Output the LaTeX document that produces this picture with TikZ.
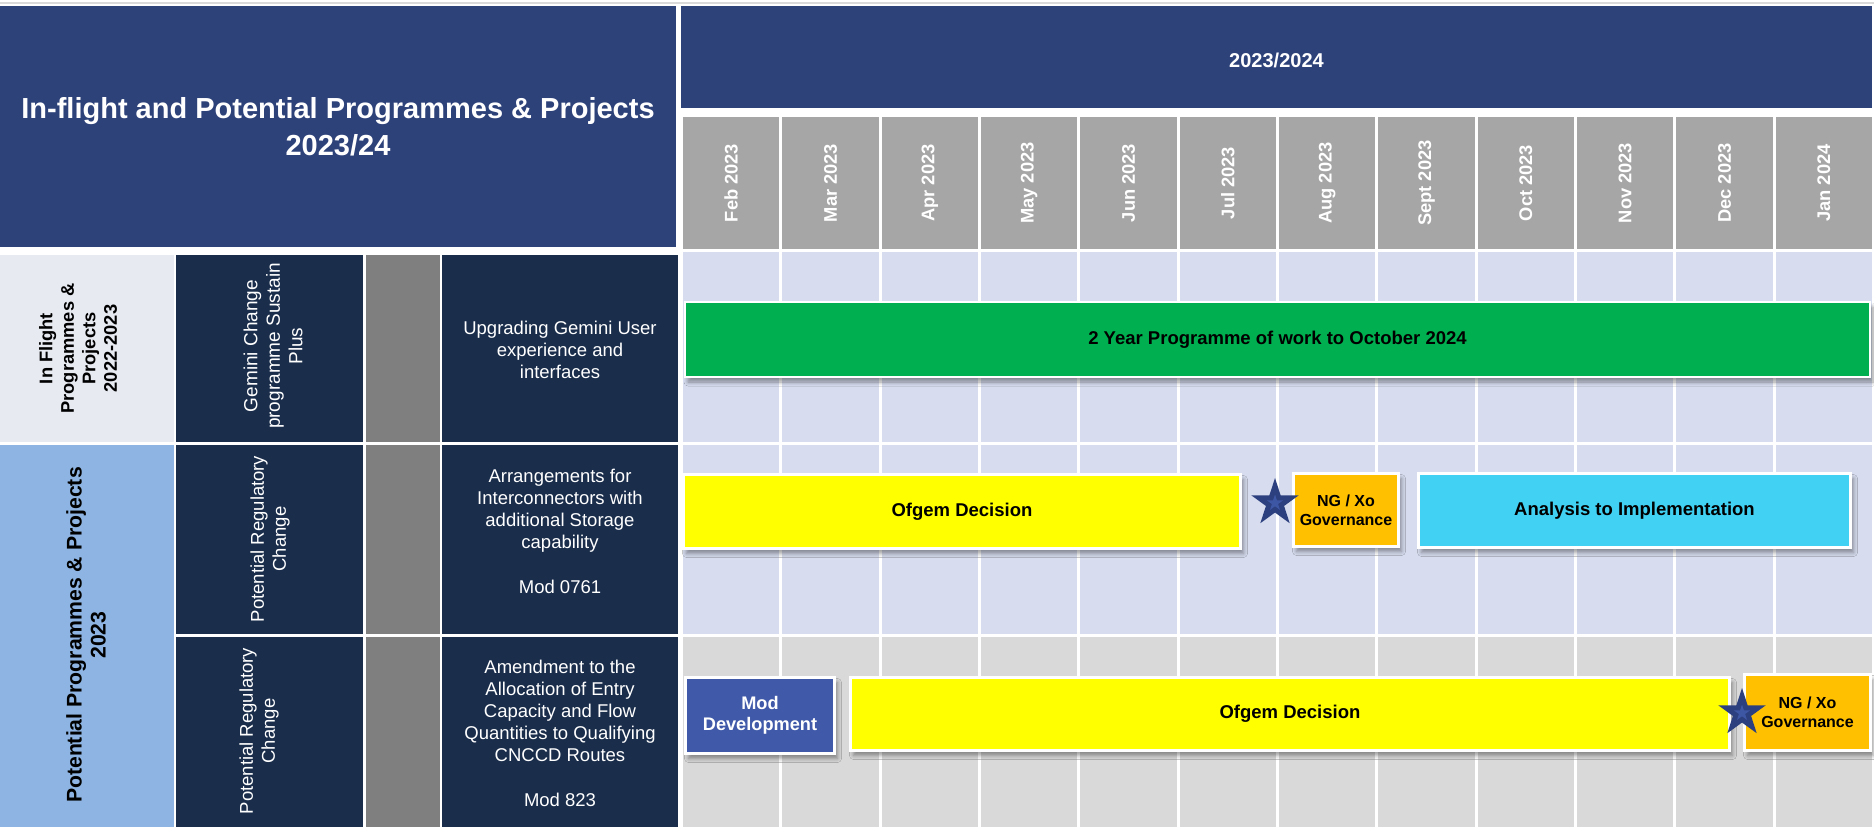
\documentclass[tikz,border=0pt]{standalone}
\usepackage{fontspec}
\setmainfont{Liberation Sans}
\usetikzlibrary{shapes.geometric,shadows.blur}
\definecolor{titleblue}{HTML}{2E427A}
\definecolor{navy}{HTML}{1A2D4B}
\definecolor{midgray}{HTML}{7F7F7F}
\definecolor{monthgray}{HTML}{A6A6A6}
\definecolor{lav}{HTML}{D7DDEF}
\definecolor{lgray}{HTML}{D9D9D9}
\definecolor{catlight}{HTML}{E8EAF2}
\definecolor{catblue}{HTML}{8DB4E2}
\definecolor{bargreen}{HTML}{00B050}
\definecolor{baryellow}{HTML}{FFFF00}
\definecolor{barorange}{HTML}{FFC000}
\definecolor{barcyan}{HTML}{41D2F3}
\definecolor{modblue}{HTML}{4059A9}
\definecolor{stardark}{HTML}{2C3F7E}
\definecolor{starlight}{HTML}{3E57A5}
\definecolor{topline}{HTML}{DADADA}
\begin{document}
\begin{tikzpicture}[x=1pt,y=-1pt,
  celltext/.style={text=white, font=\fontsize{18.5}{22}\selectfont, align=center, inner sep=0pt},
  sidetext/.style={celltext, rotate=90},
  cattext/.style={text=black, align=center, inner sep=0pt, rotate=90},
  monthtext/.style={text=white, font=\bfseries\fontsize{18.3}{22}\selectfont, rotate=90, inner sep=0pt},
  headtext/.style={text=white, align=center, inner sep=0pt},
  bar/.style={draw=white, line width=2.5pt, inner sep=0pt, align=center, text=black,
     font=\bfseries\fontsize{18.5}{22}\selectfont,
     blur shadow={shadow xshift=3pt, shadow yshift=-5pt, shadow blur radius=4pt, shadow blur steps=6}},
  govbar/.style={bar, fill=barorange, font=\bfseries\fontsize{16}{19}\selectfont},
  starmark/.style={star, star points=5, star point ratio=2.618, minimum size=50pt, inner sep=0pt,
     fill=stardark},
  starcore/.style={star, star points=5, star point ratio=2.618, minimum size=17pt, inner sep=0pt,
     fill=starlight}
]
\useasboundingbox (0,0) rectangle (1874,828);
\fill[white] (0,0) rectangle (1874,828);
\draw[topline, line width=1.5pt] (0,3) -- (1874,3);

% title and year header
\fill[titleblue] (0,6) rectangle (676,247);
\node[headtext, font=\bfseries\fontsize{29}{37}\selectfont] (title) at (338,127)
  {In-flight and Potential Programmes \& Projects\\2023/24};
\fill[titleblue] (681,6) rectangle (1872,108);
\node[headtext, font=\bfseries\fontsize{20}{24}\selectfont] (yearhead) at (1276.5,60.5) {2023/2024};

% month header cells and chart grid
\foreach \m [count=\j from 0] in {Feb 2023,Mar 2023,Apr 2023,May 2023,Jun 2023,Jul 2023,Aug 2023,Sept 2023,Oct 2023,Nov 2023,Dec 2023,Jan 2024}{
  \fill[monthgray] ({683+\j*99.33},117) rectangle ({683+\j*99.33+96.33},249);
  \node[monthtext] (month\j) at ({731.2+\j*99.33},183) {\m};
  \fill[lav] ({683+\j*99.33},252) rectangle ({683+\j*99.33+96.33},442);
  \fill[lav] ({683+\j*99.33},445) rectangle ({683+\j*99.33+96.33},634);
  \fill[lgray] ({683+\j*99.33},637) rectangle ({683+\j*99.33+96.33},827);
}

% left table
\fill[catlight] (0,255) rectangle (174,442);
\fill[catblue] (0,445) rectangle (174,827);
\foreach \ya/\yb in {255/442,445/634,637/827}{
  \fill[navy] (176,\ya) rectangle (363,\yb);
  \fill[midgray] (366,\ya) rectangle (440,\yb);
  \fill[navy] (442,\ya) rectangle (678,\yb);
}
\node[cattext, font=\bfseries\fontsize{18.3}{21.5}\selectfont] (catinflight) at (78,348.5)
  {In Flight\\Programmes \&\\Projects\\2022-2023};
\node[cattext, font=\bfseries\fontsize{21.2}{24}\selectfont] (catpotential) at (86,635)
  {Potential Programmes \& Projects\\2023};
\node[sidetext, font=\fontsize{19}{22.5}\selectfont] (progA) at (273,346)
  {Gemini Change\\programme Sustain\\Plus};
\node[sidetext] (progB) at (270,539) {Potential Regulatory\\Change};
\node[sidetext] (progC) at (259,731) {Potential Regulatory\\Change};
\node[celltext] (descA) at (560,350) {Upgrading Gemini User\\experience and\\interfaces};
\node[celltext] (descB) at (560,531)
  {Arrangements for\\Interconnectors with\\additional Storage\\capability\\[23pt]Mod 0761};
\node[celltext] (descC) at (560,733)
  {Amendment to the\\Allocation of Entry\\Capacity and Flow\\Quantities to Qualifying\\CNCCD Routes\\[23pt]Mod 823};

% bars
\node[bar, fill=bargreen, minimum width=1185pt, minimum height=75pt] (greenbar) at (1277.5,339.5)
  {2 Year Programme of work to October 2024};
\node[bar, fill=baryellow, minimum width=557pt, minimum height=74pt] (ofgemA) at (962,511.5)
  {Ofgem Decision};
\node[govbar, minimum width=105pt, minimum height=73pt] (govA) at (1346,510)
  {NG / Xo\\Governance};
\node[bar, fill=barcyan, minimum width=432pt, minimum height=74pt] (analysis) at (1634.5,510.5)
  {Analysis to Implementation};
\node[bar, fill=modblue, text=white, font=\bfseries\fontsize{18.2}{21.5}\selectfont,
  minimum width=149pt, minimum height=76pt] (moddev) at (760,715.5) {Mod\\Development};
\node[bar, fill=baryellow, minimum width=879pt, minimum height=73pt] (ofgemB) at (1290,714)
  {Ofgem Decision};
\node[govbar, minimum width=126pt, minimum height=76pt] (govB) at (1807.5,712.5)
  {NG / Xo\\Governance};

% milestone stars
\node[starmark] (starA) at (1275,503) {};
\node[starcore] (starAcore) at (starA.center) {};
\node[starmark] (starB) at (1742,713) {};
\node[starcore] (starBcore) at (starB.center) {};
\end{tikzpicture}
\end{document}
